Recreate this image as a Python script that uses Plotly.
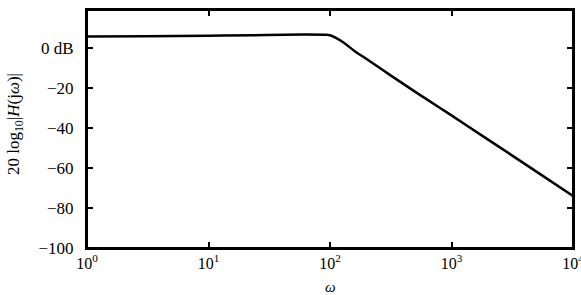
import plotly.graph_objects as go

# Data (frequency in rad/s, magnitude in dB)
omega = [1, 3, 10, 30, 60, 90, 100, 110, 130, 160, 200, 300, 500, 1000, 2000, 5000, 10000]
mag_db = [5.8, 5.9, 6.1, 6.5, 6.7, 6.6, 6.4, 5.3, 2.6, -1.6, -5.5, -12.8, -21.8, -33.7, -45.8, -61.8, -74.0]

x_tickvals = [1, 10, 100, 1000, 10000]
x_ticktext = ["10<sup>0</sup>", "10<sup>1</sup>", "10<sup>2</sup>", "10<sup>3</sup>", "10<sup>4</sup>"]
y_tickvals = [0, -20, -40, -60, -80, -100]
y_ticktext = ["0 dB", "\u221220", "\u221240", "\u221260", "\u221280", "\u2212100"]

FONT = "Liberation Serif, Times New Roman, serif"

fig = go.Figure()
fig.add_trace(go.Scatter(x=omega, y=mag_db, mode="lines",
                         line=dict(color="black", width=2.5), line_shape="spline",
                         hoverinfo="skip", cliponaxis=False))

axis_common = dict(showline=True, linecolor="black", linewidth=2, mirror="allticks",
                   ticks="inside", ticklen=6, tickwidth=2, tickcolor="black",
                   showgrid=False, zeroline=False, automargin=False)

fig.update_layout(
    template="none",
    width=581, height=295,
    margin=dict(l=87, r=8, t=10, b=47),
    paper_bgcolor="white", plot_bgcolor="rgba(0,0,0,0)",
    showlegend=False,
    font=dict(family=FONT, size=17, color="black"),
    xaxis=dict(type="log", range=[0, 4], tickvals=x_tickvals, ticktext=x_ticktext,
               tickfont=dict(size=16), ticklabeloverflow="allow", **axis_common),
    yaxis=dict(range=[-100, 19], tickvals=y_tickvals, ticktext=y_ticktext,
               ticklabelstandoff=8, **axis_common),
)

fig.add_shape(type="rect", xref="paper", yref="paper", x0=0, y0=0, x1=1, y1=1,
              line=dict(color="black", width=2), fillcolor="rgba(0,0,0,0)", layer="above")

fig.add_annotation(text="20 log<sub>10</sub>|<i>H</i>(j<i>\u03c9</i>)|",
                   xref="paper", yref="paper", x=-0.148, y=0.521,
                   textangle=-90, showarrow=False, xanchor="center", yanchor="middle",
                   font=dict(family=FONT, size=17, color="black"))
fig.add_annotation(text="<i>\u03c9</i>", xref="paper", yref="paper", x=0.5, y=-0.165,
                   showarrow=False, xanchor="center", yanchor="middle",
                   font=dict(family=FONT, size=15, color="black"))

fig.write_html("out.html")
